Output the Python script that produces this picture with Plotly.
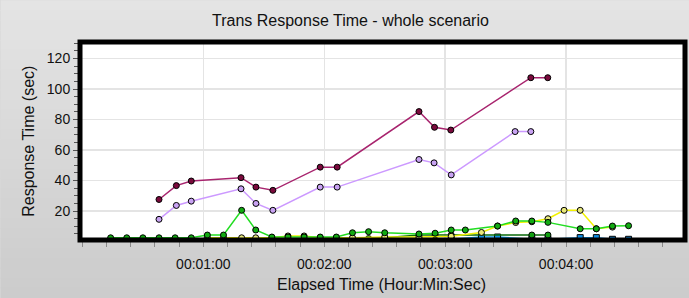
import plotly.graph_objects as go

# ---- data (time in seconds, values in seconds) ----
maroon_t = [38, 46.6, 54, 78.7, 86.1, 94.5, 118, 126.4, 167, 174.7, 182.8, 222.5, 230.9]
maroon_v = [27.6, 36.7, 39.7, 41.9, 35.7, 33.6, 48.8, 48.8, 85.2, 74.9, 73.1, 107.4, 107.4]

lav_t = [38, 46.6, 54, 78.7, 86.1, 94.5, 118, 126.4, 167, 174.5, 183, 214.7, 222.5]
lav_v = [14.6, 23.7, 26.5, 34.6, 25.0, 20.5, 35.7, 35.7, 53.8, 51.6, 43.7, 72.1, 72.1]

green_t = [14, 22, 30, 38, 46, 54, 62, 70, 79, 86, 94, 102, 110, 118, 126, 134, 142, 150,
           167, 175, 183, 190, 206, 215, 223, 231, 247, 255, 263, 271]
green_v = [2.5, 2.5, 2.5, 2.5, 2.5, 2.5, 4.3, 4.3, 20.5, 7.6, 3.0, 3.0, 3.0, 3.0, 3.0, 5.8, 6.5, 5.8,
           5.0, 5.5, 7.6, 7.6, 10.2, 13.5, 13.5, 12.6, 8.4, 8.4, 10.2, 10.4]

dgreen_t = [14, 22, 38, 46, 54, 62, 70, 79, 86, 94, 102, 110, 118, 126, 134, 142, 150, 167, 175, 183, 223, 231]
dgreen_v = [1.0, 1.0, 1.5, 1.5, 1.5, 1.5, 1.5, 1.5, 1.5, 1.5, 1.5, 1.5, 1.5, 1.5, 2.0, 2.0, 2.5, 4.3, 4.3, 4.3, 4.3, 4.3]

yellow_t = [62, 70, 79, 86, 94, 102, 110, 118, 126, 134, 150, 167, 183, 198, 206, 215, 223, 231, 239, 247, 255, 263]
yellow_v = [2.5, 2.5, 2.5, 2.5, 2.5, 3.7, 3.7, 2.5, 2.5, 2.5, 3.0, 3.0, 3.5, 6.0, 10.2, 12.5, 13.0, 15.0, 20.5, 20.5, 8.4, 9.5]

blue_t = [14, 22, 30, 38, 54, 70, 86, 102, 118, 134, 150, 167, 183, 198, 206, 223, 231, 247, 255, 263, 271]
blue_v = [0.5, 0.8, 0.8, 0.5, 0.5, 0.5, 0.5, 0.5, 0.5, 1.0, 1.0, 1.0, 1.5, 3.0, 3.0, 1.5, 1.5, 2.6, 2.6, 1.5, 1.5]

x_tickvals = [60, 120, 180, 240]
x_ticktext = ["00:01:00", "00:02:00", "00:03:00", "00:04:00"]
y_tickvals = [20, 40, 60, 80, 100, 120]
y_ticktext = ["20", "40", "60", "80", "100", "120"]

FONT = "Liberation Sans, Arial, sans-serif"
W, H = 689, 298
ML, MR, MT, MB = 79.5, 4, 41.5, 58

fig = go.Figure()

def add(t, v, line_color, marker_color, symbol="circle"):
    fig.add_trace(go.Scatter(
        x=t, y=v, mode="lines+markers",
        line=dict(color=line_color, width=1.5),
        marker=dict(color=marker_color, size=6, symbol=symbol,
                    line=dict(color="#000000", width=1)),
        showlegend=False, cliponaxis=True, hoverinfo="skip"))

add(blue_t, blue_v, "#0a9bf0", "#1090e8", "square")
add(dgreen_t, dgreen_v, "#0a6a0a", "#12a012")
add(yellow_t, yellow_v, "#f2f200", "#e8e87a")
add(green_t, green_v, "#22dd22", "#12aa12")
add(lav_t, lav_v, "#cc99ff", "#c8a2f2")
add(maroon_t, maroon_v, "#a8246e", "#7a0a3c")

# background gradient bands (paper coordinates), then white plot area, then frame
pw, ph = W - ML - MR, H - MT - MB
shapes = []
nb = 30
for i in range(nb):
    top_px = i * H / nb
    bot_px = (i + 1) * H / nb
    f = i / (nb - 1)
    c = int(round(228 - f * (228 - 204)))
    shapes.append(dict(type="rect", xref="paper", yref="paper",
                       x0=-ML / pw, x1=1 + MR / pw,
                       y0=(H - MB - bot_px) / ph - 0.002, y1=(H - MB - top_px) / ph + 0.002,
                       line=dict(width=0), fillcolor=f"rgb({c},{c},{c})", layer="below"))
shapes.append(dict(type="rect", xref="paper", yref="paper", x0=0, x1=1, y0=0, y1=1,
                   line=dict(width=0), fillcolor="#ffffff", layer="below"))
shapes.append(dict(type="rect", xref="paper", yref="paper", x0=0, x1=1, y0=0, y1=1,
                   line=dict(color="#000000", width=5), layer="above"))

fig.update_layout(
    width=W, height=H,
    margin=dict(l=ML, r=MR, t=MT, b=MB, pad=0, autoexpand=False),
    paper_bgcolor="#d8d8d8",
    plot_bgcolor="#ffffff",
    font=dict(family=FONT, size=14, color="#111111"),
    showlegend=False,
    hovermode=False,
    xaxis=dict(
        range=[-1.2, 299], automargin=False,
        tickmode="array", tickvals=x_tickvals, ticktext=x_ticktext,
        showgrid=True, gridcolor="#e4e4e4", gridwidth=1.5,
        zeroline=False, showline=False,
        ticks="outside", ticklen=6, tickcolor="#888888", tickwidth=1,
        ticklabelstandoff=5,
        tickfont=dict(size=14, family=FONT, color="#111111"),
        minor=dict(tickmode="linear", tick0=0, dtick=12, ticks="outside",
                   ticklen=6, tickcolor="#888888", tickwidth=1, showgrid=False),
    ),
    yaxis=dict(
        range=[1.05, 130.8], automargin=False,
        tickmode="array", tickvals=y_tickvals, ticktext=y_ticktext,
        showgrid=True, gridcolor="#e4e4e4", gridwidth=1.5,
        zeroline=False, showline=False,
        ticks="outside", ticklen=6, tickcolor="#555555", tickwidth=1,
        tickfont=dict(size=14, family=FONT, color="#111111"),
        minor=dict(tickmode="linear", tick0=0, dtick=5, ticks="outside",
                   ticklen=5, tickcolor="#555555", tickwidth=1, showgrid=False),
    ),
    shapes=shapes,
    annotations=[
        dict(text="Trans Response Time - whole scenario", xref="paper", yref="paper",
             x=(350 - ML) / pw, y=1 + (MT - 20) / ph, xanchor="center", yanchor="middle",
             showarrow=False, font=dict(size=16, family=FONT, color="#111111")),
        dict(text="Elapsed Time (Hour:Min:Sec)", xref="paper", yref="paper",
             x=(381 - ML) / pw, y=-(285 - 240) / ph, xanchor="center", yanchor="middle",
             showarrow=False, font=dict(size=16, family=FONT, color="#111111")),
        dict(text="Response Time (sec)", xref="paper", yref="paper",
             x=-(ML - 28) / pw, y=(240 - 141) / ph, xanchor="center", yanchor="middle",
             textangle=-90, showarrow=False, font=dict(size=16, family=FONT, color="#111111")),
    ],
)

fig.write_html(
    "out.html",
    config={"displayModeBar": False, "staticPlot": True},
    post_script="document.body.style.margin='0';document.body.style.padding='0';document.body.style.overflow='hidden';",
)
